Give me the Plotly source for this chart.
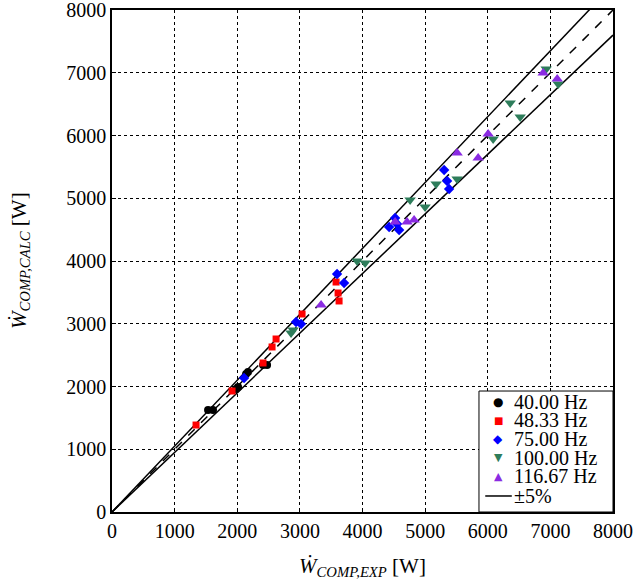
import plotly.graph_objects as go

# 40.00 Hz
x40 = [1534, 1613, 1981, 2013, 2141, 2172, 2412, 2476]
y40 = [1625, 1625, 1960, 1992, 2199, 2231, 2343, 2343]
# 48.33 Hz
x48 = [1342, 1917, 2412, 2556, 2620, 3035, 3578, 3610, 3626]
y48 = [1386, 1928, 2375, 2630, 2757, 3155, 3665, 3490, 3363]
# 75.00 Hz
x75 = [2109, 2939, 3019, 3594, 3706, 4425, 4521, 4553, 4585, 5304, 5351, 5383]
y75 = [2135, 3028, 2996, 3793, 3650, 4542, 4685, 4590, 4494, 5450, 5275, 5147]
# 100.00 Hz
x100 = [2859, 2891, 3914, 4042, 4760, 4999, 5176, 5511, 6086, 6358, 6518, 6933, 7125]
y100 = [2853, 2900, 4000, 3968, 4972, 4861, 5227, 5307, 5944, 6518, 6295, 7060, 6821]
# 116.67 Hz
x117 = [3339, 4521, 4712, 4824, 5511, 5847, 6006, 6885, 7109]
y117 = [3299, 4621, 4621, 4653, 5721, 5641, 6024, 6996, 6900]

series_names = ["40.00 Hz", "48.33 Hz", "75.00 Hz", "100.00 Hz", "116.67 Hz"]
series_colors = ["black", "#ff0000", "#0000ff", "#2e7d5b", "#8a2be2"]
series_symbols = ["circle", "square", "diamond", "triangle-down", "triangle-up"]
legend_glyphs = ["●", "■", "◆", "▼", "▲"]
band_label = "±5%"

line_x = [0, 8000]
tol = 0.05
ticks = [0, 1000, 2000, 3000, 4000, 5000, 6000, 7000, 8000]

fig = go.Figure()

fig.add_trace(go.Scatter(x=line_x, y=line_x, mode="lines",
                         line=dict(color="black", width=1.5, dash="dash"),
                         showlegend=False, hoverinfo="skip"))
fig.add_trace(go.Scatter(x=line_x, y=[v * (1 + tol) for v in line_x], mode="lines",
                         line=dict(color="black", width=1.5), showlegend=False))
fig.add_trace(go.Scatter(x=line_x, y=[v * (1 - tol) for v in line_x], mode="lines",
                         line=dict(color="black", width=1.5), showlegend=False))

sizes = [8, 7, 8, 10, 10]
data = [(x40, y40), (x48, y48), (x75, y75), (x100, y100), (x117, y117)]
for (xs, ys), name, col, sym, sz in zip(data, series_names, series_colors,
                                          series_symbols, sizes):
    fig.add_trace(go.Scatter(x=xs, y=ys, mode="markers", name=name, showlegend=False,
                             marker=dict(color=col, symbol=sym, size=sz,
                                         line=dict(width=0))))

axis_common = dict(
    range=[0, 8000], tickvals=ticks, ticktext=[str(t) for t in ticks],
    showgrid=True, gridcolor="black", griddash="dot", gridwidth=1,
    showline=True, linecolor="black", linewidth=1.5, mirror=True,
    ticks="inside", ticklen=4, tickcolor="black", automargin=False,
    ticklabeloverflow="allow",
    zeroline=False, tickfont=dict(family="Liberation Serif", size=20, color="black"),
)

# manual legend (box, keys, labels) in paper coordinates
lx0, lx1, ly0, ly1 = 0.7325, 1.0, 0.0, 0.241
row_y = [0.2197, 0.1827, 0.1460, 0.1082, 0.0717, 0.0319]
key_x = 0.7705
text_x = 0.798
glyph_sizes = [12, 10, 12, 11, 11]

shapes = [dict(type="rect", xref="paper", yref="paper", x0=lx0, x1=lx1, y0=ly0, y1=ly1,
               line=dict(color="black", width=1), fillcolor="white", layer="above"),
          dict(type="line", xref="paper", yref="paper", x0=0.745, x1=0.798,
               y0=row_y[5], y1=row_y[5], line=dict(color="black", width=1.5),
               layer="above")]

annotations = []
for i, (name, col, g, gs) in enumerate(zip(series_names, series_colors,
                                           legend_glyphs, glyph_sizes)):
    annotations.append(dict(text=g, xref="paper", yref="paper", x=key_x, y=row_y[i],
                            xanchor="center", yanchor="middle", showarrow=False,
                            font=dict(family="DejaVu Sans", size=gs, color=col)))
    annotations.append(dict(text=name, xref="paper", yref="paper", x=text_x, y=row_y[i],
                            xanchor="left", yanchor="middle", showarrow=False,
                            font=dict(size=20, color="black")))
annotations.append(dict(text=band_label, xref="paper", yref="paper", x=text_x, y=row_y[5],
                        xanchor="left", yanchor="middle", showarrow=False,
                        font=dict(size=20, color="black")))
annotations += [
    dict(text="<i>Ẇ</i><sub><i>COMP,EXP</i></sub> [W]", xref="paper", yref="paper",
         x=0.5, y=-0.11, xanchor="center", yanchor="middle",
         showarrow=False, font=dict(size=21)),
    dict(text="<i>Ẇ</i><sub><i>COMP,CALC</i></sub> [W]", xref="paper", yref="paper",
         x=-0.1836, y=0.5, xanchor="center", yanchor="middle", textangle=-90,
         showarrow=False, font=dict(size=21)),
]

fig.update_layout(
    width=637, height=583,
    margin=dict(l=112, r=24, t=10, b=71, autoexpand=False),
    plot_bgcolor="white", paper_bgcolor="white",
    font=dict(family="Liberation Serif", size=20, color="black"),
    xaxis=dict(**axis_common),
    yaxis=dict(**axis_common),
    showlegend=False,
    shapes=shapes,
    annotations=annotations,
)

# remove the browser's default 8px body margin so the figure fills the window
fig.write_html("out.html", config={"displayModeBar": False},
               post_script="document.body.style.margin='0px';")
